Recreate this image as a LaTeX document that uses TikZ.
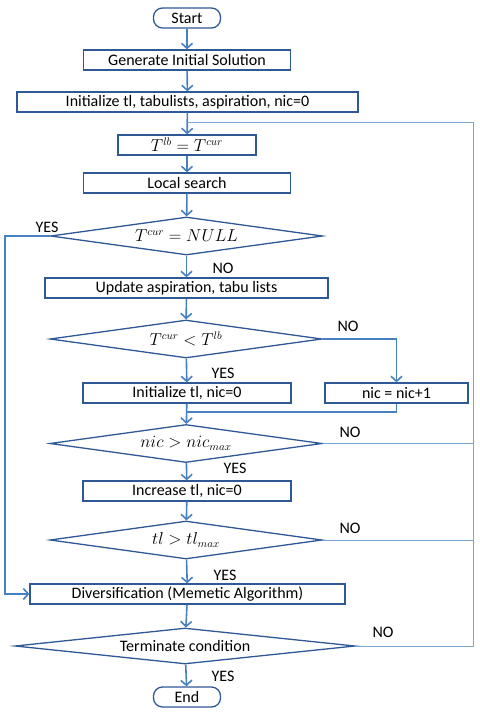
\documentclass[tikz,border=0pt]{standalone}
\usepackage{amsmath}
\usepackage{fontspec}
\setmainfont{Carlito}
\usepackage{tikz}
\usetikzlibrary{arrows.meta,shapes.geometric,positioning}

\begin{document}
\begin{tikzpicture}[x=1pt,y=-1pt,font=\fontsize{16}{18}\selectfont]
% Tabu search flowchart with memetic diversification.
% Main column at x=187, the return rail runs down the right edge.
\definecolor{boxblue}{RGB}{47, 88, 150}
\definecolor{lineblue}{RGB}{70, 128, 192}
\definecolor{railblue}{RGB}{125, 165, 208}
\tikzset{
  proc/.style={draw=boxblue, line width=1.3pt, rectangle, minimum height=20pt, inner sep=0pt},
  term/.style={draw=boxblue, line width=1.3pt, rectangle, rounded corners=9pt, minimum width=67pt, minimum height=20pt, inner sep=0pt},
  dec/.style={draw=boxblue, line width=1.3pt, diamond, inner sep=0pt, aspect=7.2, minimum width=272pt, minimum height=38pt},
  conn/.style={draw=lineblue, line width=1.6pt},
  arr/.style={conn, -{Straight Barb[length=5pt,width=11pt,line width=1.6pt]}},
  rail/.style={draw=railblue, line width=1pt},
  tag/.style={inner sep=0pt, anchor=center}
}
\useasboundingbox (0,0) rectangle (479,717);
\coordinate (lft) at (5,0);
\coordinate (rgt) at (473,0);
\coordinate (join) at (187,122);
\coordinate (merge) at (187,412);

\node[term] (start) at (187,18) {Start};
\node[proc, minimum width=207pt] (gen) at (187,60) {Generate Initial Solution};
\node[proc, minimum width=341pt] (init) at (187.5,102) {Initialize tl, tabulists, aspiration, nic=0};
\node[proc, minimum width=138pt] (tlb) at (187,145) {$T^{lb} = T^{cur}$};
\node[proc, minimum width=207pt] (ls) at (187,183) {Local search};
\node[dec] (null) at (186.5,236) {$T^{cur} = NULL$};
\node[proc, minimum width=283pt] (upd) at (186.5,288) {Update aspiration, tabu lists};
\node[dec] (lt) at (186,339) {$T^{cur} < T^{lb}$};
\node[proc, minimum width=208pt] (initnic) at (187,393) {Initialize tl, nic=0};
\node[proc, minimum width=143pt] (inc) at (396.5,393) {nic = nic+1};
\node[dec] (nicmax) at (186,443.5) {$nic > nic_{max}$};
\node[proc, minimum width=208pt] (incr) at (187,491) {Increase tl, nic=0};
\node[dec] (tlmax) at (186,540) {$tl > tl_{max}$};
\node[proc, minimum width=315pt] (div) at (187.5,594) {Diversification (Memetic Algorithm)};
\node[dec, aspect=9.4, minimum width=340pt, minimum height=36pt] (cond) at (185,646) {Terminate condition};
\node[term] (stop) at (187,697) {End};

% main column
\draw[arr] (start) -- (gen);
\draw[arr] (gen) -- (init);
\draw[arr] (init) -- (tlb);
\draw[arr] (tlb) -- (ls);
\draw[arr] (ls) -- (null);
\draw[arr] (null) -- (upd);
\draw[arr] (upd) -- (lt);
\draw[arr] (lt) -- (initnic);
\draw[arr] (initnic) -- (nicmax);
\draw[arr] (nicmax) -- (incr);
\draw[arr] (incr) -- (tlmax);
\draw[arr] (tlmax) -- (div);
\draw[arr] (div) -- (cond);
\draw[arr] (cond) -- (stop);

% branches
\draw[arr] (null.west) -- (null.west -| lft) |- (div.west);
\draw[arr] (lt.east) -| (inc.north);
\draw[conn] (inc.south) |- (merge);
\foreach \n in {nicmax, tlmax} {
  \draw[rail] (\n.east) -- (\n.east -| rgt);
}
\draw[rail] (cond.east) -- (cond.east -| rgt) |- (join);

% labels
\node[tag] (yes1) at (47,227) {YES};
\node[tag] (no1) at (223,268) {NO};
\node[tag] (no2) at (348,326) {NO};
\node[tag] (yes2) at (223,373) {YES};
\node[tag] (no3) at (350,432) {NO};
\node[tag] (yes3) at (235,468) {YES};
\node[tag] (no4) at (350,528) {NO};
\node[tag] (yes4) at (225,575) {YES};
\node[tag] (no5) at (383,632) {NO};
\node[tag] (yes5) at (223,676) {YES};
\end{tikzpicture}
\end{document}
